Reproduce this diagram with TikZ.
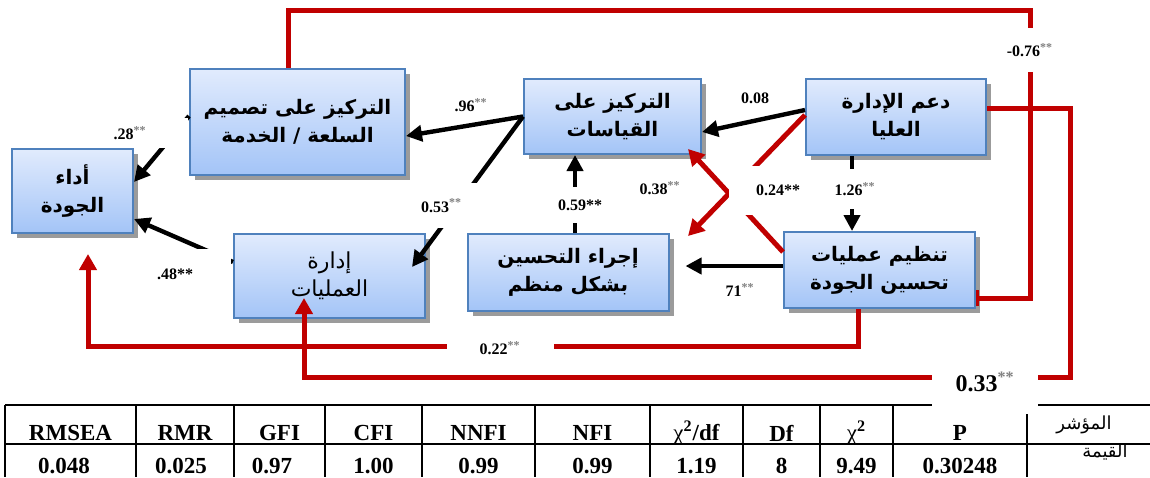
\documentclass[tikz,border=0pt]{standalone}
\usepackage{fontspec}
\usepackage{xcolor}
\usepackage{tikz}
\setmainfont{Liberation Serif}
\newfontfamily\arabicfont[Script=Arabic]{DejaVu Sans}
\TeXXeTstate=1
\usetikzlibrary{shapes, positioning, arrows.meta, shadows}

\definecolor{boxtop}{RGB}{225,235,253}
\definecolor{boxbot}{RGB}{163,196,247}
\definecolor{boxedge}{RGB}{79,129,189}
\definecolor{pathred}{RGB}{192,0,0}
\definecolor{shadowgray}{RGB}{155,155,155}

\newcommand{\artext}[1]{\beginR #1\endR}
\newcommand{\sig}{\textsuperscript{\textcolor{gray}{**}}}

\begin{document}
\begin{tikzpicture}[x=0.5pt, y=-0.5pt,
        box/.style={draw=boxedge, line width=1pt, top color=boxtop, bottom color=boxbot,
            drop shadow={shadow xshift=2.5pt, shadow yshift=-2.5pt, fill=shadowgray, opacity=1},
            align=center, inner sep=2pt, font=\arabicfont\bfseries\fontsize{10}{14}\selectfont},
        blk/.style={line width=2.2pt, -{Triangle[length=8pt, width=8pt]}},
        redl/.style={draw=pathred, line width=2.5pt},
        redtip/.style={-{Triangle[length=8pt, width=8.5pt]}},
        coef/.style={font=\bfseries\fontsize{8}{9}\selectfont, fill=white, inner sep=1pt},
        cell/.style={font=\bfseries\fontsize{11.5}{12}\selectfont}]
        \useasboundingbox (0,0) rectangle (1150,477);

        \node[box, minimum width=60.5pt, minimum height=42pt] (perf) at (72.5,191) {\artext{أداء}\\\artext{الجودة}};
        \node[box, minimum width=107.5pt, minimum height=53pt] (design) at (297.5,122) {\artext{التركيز على تصميم}\\\artext{السلعة / الخدمة}};
        \node[box, minimum width=88.5pt, minimum height=37.5pt] (measure) at (612.5,116.5) {\artext{التركيز على}\\\artext{القياسات}};
        \node[box, minimum width=90pt, minimum height=38pt] (topmgmt) at (896,117) {\artext{دعم الإدارة}\\\artext{العليا}};
        \node[box, minimum width=95.5pt, minimum height=42pt, font=\arabicfont\fontsize{11}{14}\selectfont] (opsmgmt) at (329.5,276) {\artext{إدارة}\\\artext{العمليات}};
        \node[box, minimum width=100.5pt, minimum height=38.5pt] (improve) at (568,272.5) {\artext{إجراء التحسين}\\\artext{بشكل منظم}};
        \node[box, minimum width=95.5pt, minimum height=38pt] (organise) at (879.5,270) {\artext{تنظيم عمليات}\\\artext{تحسين الجودة}};

        % direct paths
        \draw[blk] (measure.west) -- ([yshift=-7pt]design.east);
        \draw[blk] (measure.west) -- ([xshift=-7pt,yshift=-17pt]opsmgmt.north east);
        \draw[blk] ([yshift=3pt]design.west) -- ([yshift=4.5pt]perf.east);
        \draw[blk] ([yshift=7pt]opsmgmt.west) -- ([yshift=-14pt]perf.east);
        \draw[blk] ([yshift=3.5pt]topmgmt.west) -- ([yshift=-7.75pt]measure.east);
        \draw[blk] ([xshift=-22pt]topmgmt.south) -- ([xshift=-22pt]topmgmt.south |- organise.north);
        \draw[blk] ([xshift=3.5pt]improve.north) -- ([xshift=3.5pt]improve.north |- measure.south);
        \draw[blk, shorten >=8pt] ([yshift=2pt]organise.west) -- ([yshift=2pt]organise.west -| improve.east);

        % red paths
        \draw[redl, -{Bar[width=8pt, line width=1.5pt]}] ([xshift=-4.75pt]design.north) |- (1030,10) |- ([yshift=-14pt]organise.east);
        \draw[redl, redtip] ([yshift=4.5pt]topmgmt.east) -| (1070,377) -| ([xshift=-12.75pt,yshift=10.5pt]opsmgmt.south);
        \draw[redl, redtip] ([xshift=-10.75pt]organise.south) -- ++(0,37) -| ([xshift=7.75pt,yshift=-10pt]perf.south);
        \draw[redl, redtip] ([yshift=9pt]organise.west) -- ([xshift=-7pt,yshift=3pt]measure.south east);
        \draw[redl, redtip] ([yshift=1pt]topmgmt.west) -- ([xshift=9.25pt,yshift=-1.5pt]improve.north east);

        % fit table
        \draw[line width=1pt] (5,405) -- (1150,405) (5,444) -- (1150,444);
        \draw[line width=1pt] (5,405) -- (5,477) (136,405) -- (136,477) (234,405) -- (234,477)
            (325,405) -- (325,477) (422,405) -- (422,477) (535,405) -- (535,477)
            (650,405) -- (650,477) (743,405) -- (743,477) (820,405) -- (820,477)
            (893,405) -- (893,477) (1027,405) -- (1027,477);

        \node[cell] (hrmsea) at (70.5,433) {RMSEA};
        \node[cell] (hrmr) at (185,433) {RMR};
        \node[cell] (hgfi) at (279.5,433) {GFI};
        \node[cell] (hcfi) at (373.5,433) {CFI};
        \node[cell] (hnnfi) at (478.5,433) {NNFI};
        \node[cell] (hnfi) at (592.5,433) {NFI};
        \node[cell] (hchidf) at (696.5,433) {{\mdseries χ}\textsuperscript{2}/df};
        \node[cell] (hdf) at (781.5,433) {Df};
        \node[cell] (hchi) at (856.5,433) {{\mdseries χ}\textsuperscript{2}};
        \node[cell] (hp) at (960,433) {P};
        \node[font=\arabicfont\fontsize{9}{10}\selectfont] (hindex) at (1084,425) {\artext{المؤشر}};

        \node[cell] (vrmsea) at (64,466) {0.048};
        \node[cell] (vrmr) at (181,466) {0.025};
        \node[cell] (vgfi) at (272,466) {0.97};
        \node[cell] (vcfi) at (373.5,466) {1.00};
        \node[cell] (vnnfi) at (478.5,466) {0.99};
        \node[cell] (vnfi) at (592.5,466) {0.99};
        \node[cell] (vchidf) at (696.5,466) {1.19};
        \node[cell] (vdf) at (781.5,466) {8};
        \node[cell] (vchi) at (856.5,466) {9.49};
        \node[cell] (vp) at (960,466) {0.30248};
        \node[font=\arabicfont\fontsize{9}{10}\selectfont] (vindex) at (1105,452) {\artext{القيمة}};

        % path coefficients
        \node[coef, minimum height=22pt] (l076) at (1030,50) {-0.76\sig};
        \node[coef, minimum width=53pt, minimum height=32pt, font=\bfseries\fontsize{12}{13}\selectfont] (l033) at (985,382) {0.33\sig};
        \node[coef, minimum width=53.5pt] (l022) at (500,348) {0.22\sig};
        \node[coef, minimum height=20pt] (l126) at (855,189) {1.26\sig};
        \node[coef, minimum height=18pt] (l059) at (580,205) {0.59**};
        \node[coef, minimum width=36.5pt, minimum height=22.5pt] (l053) at (441.5,205.5) {0.53\sig};
        \node[coef, minimum width=58pt, minimum height=15pt] (l028) at (130,133) {.28\sig};
        \node[coef, minimum width=56pt, minimum height=25.5pt] (l048) at (175,274.5) {.48**};
        \node[coef, minimum width=49pt, minimum height=24.5pt] (l024) at (778,190.5) {0.24**};
        \node[coef] (l038) at (660,188) {0.38\sig};
        \node[coef] (l096) at (471,105) {.96\sig};
        \node[coef] (l008) at (755,98) {0.08};
        \node[coef] (l071) at (740,290) {71\sig};
    \end{tikzpicture}
\end{document}
